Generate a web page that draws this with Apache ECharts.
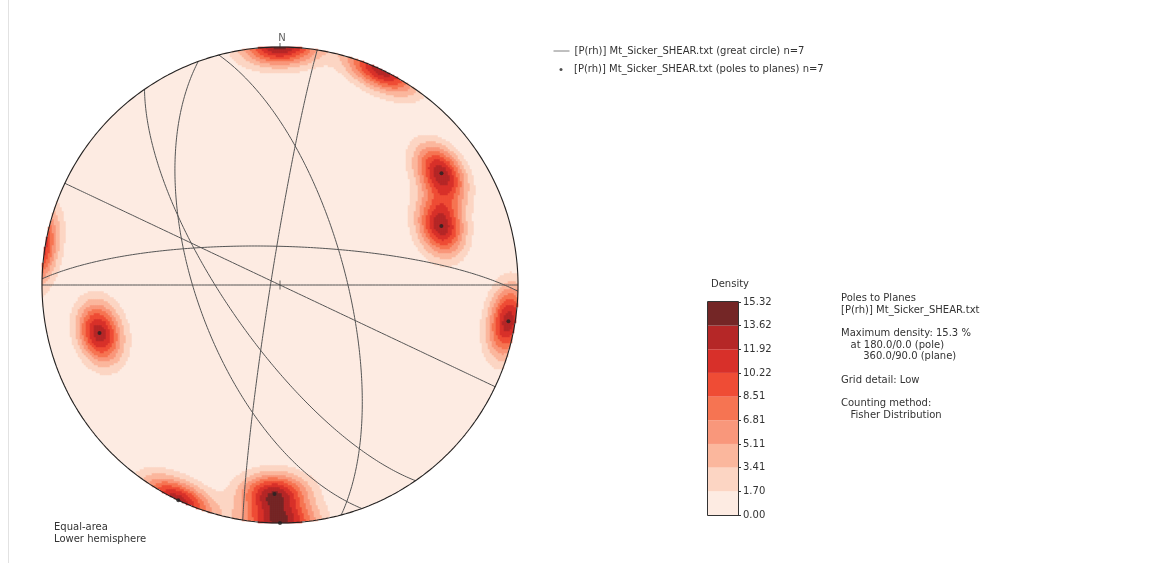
<!DOCTYPE html>
<html><head><meta charset="utf-8">
<script src="https://cdn.jsdelivr.net/npm/echarts@6/dist/echarts.min.js"></script>
<style>html,body{margin:0;padding:0;background:#fff}#c{width:1162px;height:563px}</style>
</head><body><div id="c"></div>
<script>
// ---- data (planes as dip direction / dip, degrees) ----
const planeDipDir = [235.3, 249.9, 279.0, 75.1, 25.3, 1.5, 0.0];
const planeDip    = [71.4, 61.4, 86.8, 67.4, 90.0, 76.8, 90.0];
const levels      = [0, 1.70, 3.41, 5.11, 6.81, 8.51, 10.22, 11.92, 13.62, 15.32];
const levelLabels = ['0.00','1.70','3.41','5.11','6.81','8.51','10.22','11.92','13.62','15.32'];
const levelColors = ['#fdebe2','#fcd5c3','#fbb79d','#f9977b','#f67452','#ef4c35','#d8302a','#b52727','#742626'];
const fisherKappa = 90;
const peakScale = 13;
const gridN = 238;
const gcName = '[P(rh)] Mt_Sicker_SHEAR.txt (great circle) n=7';
const poleName = '[P(rh)] Mt_Sicker_SHEAR.txt (poles to planes) n=7';
const infoLines = ['Poles to Planes','[P(rh)] Mt_Sicker_SHEAR.txt','','Maximum density: 15.3 %','   at 180.0/0.0 (pole)','       360.0/90.0 (plane)','','Grid detail: Low','','Counting method:','   Fisher Distribution'];
const projLines = ['Equal-area','Lower hemisphere'];

// ---- geometry helpers ----
const D2R = Math.PI/180;
function vec(trend, plunge){const t=trend*D2R,p=plunge*D2R;return [Math.cos(p)*Math.cos(t),Math.cos(p)*Math.sin(t),Math.sin(p)];}
function project(v){let n=v[0],e=v[1],d=v[2];if(d<0){n=-n;e=-e;d=-d;}const s=1/Math.sqrt(1+d);return [e*s,n*s];}
const poles = planeDipDir.map((dd,i)=>vec(dd+180, 90-planeDip[i]));
const poleXY = poles.map(project);
const greatCircles = planeDipDir.map((dd,i)=>{
  const s=vec(dd-90,0), dv=vec(dd,planeDip[i]); const pts=[];
  for(let a=0;a<=180;a+=1){const c=Math.cos(a*D2R),sn=Math.sin(a*D2R);
    pts.push(project([c*s[0]+sn*dv[0],c*s[1]+sn*dv[1],c*s[2]+sn*dv[2]]));}
  return pts;});
const primitive=[];for(let a=0;a<=360;a+=1){primitive.push([Math.sin(a*D2R),Math.cos(a*D2R)]);}

// density grid (Fisher kernel, axial)
const heat=[]; const cats=[];
for(let i=0;i<gridN;i++)cats.push(i);
for(let i=0;i<gridN;i++){for(let j=0;j<gridN;j++){
  const x=-1+(i+0.5)*2/gridN, y=-1+(j+0.5)*2/gridN, r2=x*x+y*y; if(r2>1)continue;
  const d=1-r2, k=Math.sqrt(1+d), n=y*k, e=x*k; let sum=0;
  for(const p of poles){sum+=Math.exp(fisherKappa*(Math.abs(n*p[0]+e*p[1]+d*p[2])-1));}
  heat.push([i,j,Math.min(peakScale*sum,levels[levels.length-1]-1e-6)]);
}}

const FONT='"DejaVu Sans", sans-serif';
const chart=echarts.init(document.getElementById('c'),null,{renderer:'canvas'});
const series=[{type:'heatmap',xAxisIndex:0,yAxisIndex:0,data:heat,progressive:0,progressiveThreshold:1e7,
  itemStyle:{borderWidth:0},emphasis:{disabled:true},silent:true,z:1}];
greatCircles.forEach(gc=>series.push({type:'line',name:gcName,xAxisIndex:1,yAxisIndex:1,data:gc,symbol:'none',showSymbol:false,
  lineStyle:{color:'#555',width:1},itemStyle:{color:'#777'},silent:true,clip:false,z:3}));
series.push({type:'line',xAxisIndex:1,yAxisIndex:1,data:primitive,symbol:'none',lineStyle:{color:'#222',width:1.1},silent:true,clip:false,z:4});
series.push({type:'scatter',name:poleName,xAxisIndex:1,yAxisIndex:1,data:poleXY,symbol:'circle',symbolSize:4,itemStyle:{color:'#222'},silent:true,z:5});
series.push({type:'scatter',xAxisIndex:1,yAxisIndex:1,data:[[0,0]],symbol:'rect',symbolSize:[1,9],itemStyle:{color:'#444'},silent:true,z:5});
series.push({type:'scatter',xAxisIndex:1,yAxisIndex:1,data:[[0,1]],symbol:'rect',symbolSize:[1,4],symbolOffset:[0,-2],itemStyle:{color:'#333'},silent:true,z:5,
  label:{show:true,formatter:'N',position:'top',distance:0,offset:[2,0],fontFamily:FONT,fontSize:10,color:'#333'}});
levelColors.forEach((c,i)=>series.push({type:'bar',stack:'cb',xAxisIndex:2,yAxisIndex:2,data:[levels[i+1]-levels[i]],barWidth:'100%',
  itemStyle:{color:c},silent:true,z:2}));

const step=levels[levels.length-1]/(levels.length-1);
chart.setOption({
  animation:false,
  grid:[{left:42,top:47,width:476,height:476},{left:42,top:47,width:476,height:476},{left:708,top:302,width:30,height:213}],
  xAxis:[{type:'category',data:cats,gridIndex:0,show:false},{type:'value',gridIndex:1,min:-1,max:1,show:false},
    {type:'category',data:[''],gridIndex:2,show:false}],
  yAxis:[{type:'category',data:cats,gridIndex:0,show:false},{type:'value',gridIndex:1,min:-1,max:1,show:false},
    {type:'value',gridIndex:2,min:0,max:levels[levels.length-1],interval:step,position:'right',
     axisLine:{show:false},splitLine:{show:false},axisTick:{show:true,length:3,lineStyle:{color:'#333'}},
     axisLabel:{margin:5,fontFamily:FONT,fontSize:10,color:'#333',formatter:v=>levelLabels[Math.round(v/step)]}}],
  visualMap:{type:'piecewise',show:false,seriesIndex:0,dimension:2,
    pieces:levelColors.map((c,i)=>({gte:levels[i],lt:levels[i+1],color:c}))},
  legend:[{data:[gcName],orient:'vertical',left:548,top:41,itemWidth:16,itemHeight:12,itemGap:0,
      itemStyle:{opacity:0,color:'rgba(0,0,0,0)',borderWidth:0},lineStyle:{color:'#808080',width:1},
      textStyle:{fontFamily:FONT,fontSize:10,color:'#333'}},
    {data:[poleName],orient:'vertical',left:554.5,top:59.5,itemWidth:3,itemHeight:3,itemGap:0,
      textStyle:{fontFamily:FONT,fontSize:10,color:'#333',padding:[0,0,0,6.5]}}],
  graphic:[
    {type:'line',shape:{x1:8.5,y1:0,x2:8.5,y2:563},style:{stroke:'#e2e2e2',lineWidth:1},silent:true},
    {type:'rect',shape:{x:707.5,y:301.5,width:31,height:214},style:{fill:'none',stroke:'#333',lineWidth:1},z:100,silent:true},
    {type:'text',left:711,top:279,style:{text:'Density',font:'10px '+FONT,fill:'#333'},silent:true},
    {type:'text',left:841,top:292.5,style:{text:infoLines.join('\n'),font:'10px '+FONT,fill:'#333',lineHeight:11.7},silent:true},
    {type:'text',left:54,top:521,style:{text:projLines.join('\n'),font:'10px '+FONT,fill:'#333',lineHeight:12.5},silent:true}
  ],
  series:series
});
</script></body></html>
